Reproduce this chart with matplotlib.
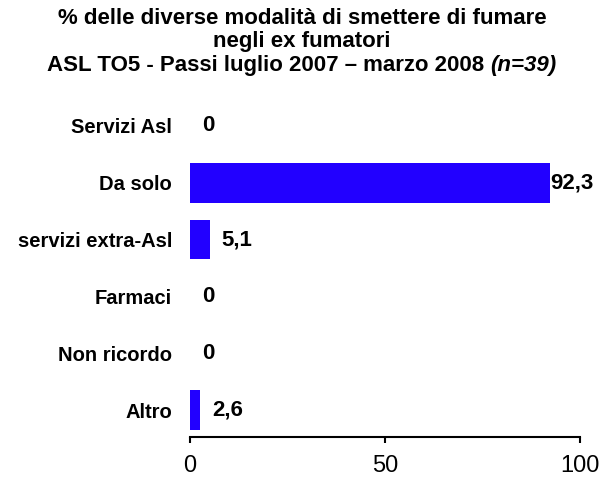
import numpy as np
import matplotlib.pyplot as plt

plt.rcParams['font.family'] = ['Liberation Sans', 'DejaVu Sans']

categorie = ["Servizi Asl", "Da solo", "servizi extra-Asl", "Farmaci", "Non ricordo", "Altro"]
valori = [0, 92.3, 5.1, 0, 0, 2.6]
etichette = ["0", "92,3", "5,1", "0", "0", "2,6"]
xticks = [0, 50, 100]
titolo = ["% delle diverse modalità di smettere di fumare",
          "negli ex fumatori",
          "ASL TO5 - Passi luglio 2007 – marzo 2008 "]
titolo_corsivo = "(n=39)"

fig = plt.figure(figsize=(6.04, 4.79), dpi=100)
ax = fig.add_axes([0.3146, 0.0877, 0.6457, 0.7086])

pos = np.arange(len(categorie))[::-1]
ax.barh(pos, valori, height=0.7, color="#2200FF")

for p, v, t in zip(pos, valori, etichette):
    dx = 0.5 if v > 90 else 8.5
    ax.annotate(t, (v, p), xytext=(dx, 0), textcoords="offset points",
                ha="left", va="center", fontsize=16, fontweight="bold")

ax.set_xlim(0, 100)
ax.set_ylim(-0.475, 5.5)
ax.set_yticks(pos)
ax.set_yticklabels(categorie, fontsize=14.5, fontweight="bold")
ax.tick_params(axis="y", length=0, pad=13)
ax.set_xticks(xticks)
ax.set_xticklabels([str(x) for x in xticks], fontsize=17)
ax.tick_params(axis="x", length=4, width=1.5, pad=9)

for s in ["top", "right", "left"]:
    ax.spines[s].set_visible(False)
ax.spines["bottom"].set_linewidth(1.5)

# titolo: ultima riga con "(n=39)" in corsivo
r = fig.canvas.get_renderer()
for i, riga in enumerate(titolo):
    y = 1 - (19 + 23 * i) / 479
    if i < 2:
        fig.text(0.5, y, riga, ha="center", va="center", fontsize=16, fontweight="bold")
        continue
    t1 = fig.text(0, y, riga, ha="left", va="center", fontsize=16, fontweight="bold")
    t2 = fig.text(0, y, titolo_corsivo, ha="left", va="center", fontsize=16,
                  fontweight="bold", fontstyle="italic")
    w1 = t1.get_window_extent(r).width
    w2 = t2.get_window_extent(r).width
    x0 = (604 - w1 - w2) / 2
    t1.set_x(x0 / 604)
    t2.set_x((x0 + w1) / 604)

fig.savefig("out.png", dpi=100)
